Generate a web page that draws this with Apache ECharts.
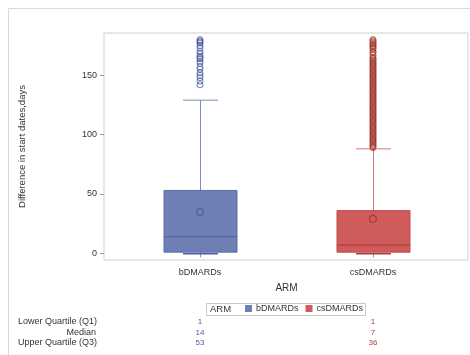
<!DOCTYPE html>
<html>
<head>
<meta charset="utf-8">
<script src="https://cdn.jsdelivr.net/npm/echarts@6/dist/echarts.min.js"></script>
<style>
html,body{margin:0;padding:0;background:#fff;}
#chart{width:470px;height:355px;}
</style>
</head>
<body>
<div id="chart"></div>
<script>
// ---- data ----
const categories = ['bDMARDs', 'csDMARDs'];
const whiskerLow = [0, 0];
const q1 = [1, 1];
const median = [14, 7];
const q3 = [53, 36];
const whiskerHigh = [129, 88];
const means = [35, 29];
const outliersB = [142, 145, 148, 150, 152, 155, 157, 160, 162, 164, 165, 166, 168, 170, 173, 175, 177, 178, 179, 180];
const outliersC = [89, 90, 91, 92, 93, 94, 95, 96, 97, 98, 99, 100, 101, 102, 103, 104, 105, 106, 107, 108, 109, 110,
  111, 112, 113, 114, 115, 116, 117, 118, 119, 120, 121, 122, 123, 124, 125, 126, 127, 128, 129, 130, 131, 132, 133,
  134, 135, 136, 137, 138, 139, 140, 141, 142, 143, 144, 145, 146, 147, 148, 149, 150, 151, 152, 153, 154, 155, 156,
  157, 158, 159, 160, 161, 162, 163, 164, 165, 167, 169, 170, 172, 173, 174, 175, 176, 177, 178, 179, 180];
const yTicks = [0, 50, 100, 150];
const rowTitles = ['Lower Quartile (Q1)', 'Median', 'Upper Quartile (Q3)'];

// ---- styles ----
const fills = ['#6f7eb3', '#d05b5b'];
const borders = ['#5d6daa', '#c04a4a'];
const medians = ['#4f5f9e', '#ad3c3c'];
const whiskers = ['#7f8cc0', '#d77474'];
const contrast = ['#4a5b9f', '#a3362e'];
const tableColors = ['#4b5ca3', '#a8403a'];
const Y_MIN = -5.6, Y_MAX = 185.6;

function renderBox(params, api) {
  const i = api.value(0);
  const band = api.size([1, 0])[0];
  const halfBox = band * 0.211;
  const halfCap = band * 0.101;
  const pLow = api.coord([i, api.value(1)]);
  const pQ1 = api.coord([i, api.value(2)]);
  const pMed = api.coord([i, api.value(3)]);
  const pQ3 = api.coord([i, api.value(4)]);
  const pHigh = api.coord([i, api.value(5)]);
  const cx = Math.round(pLow[0]) + 0.5;
  const k = i;
  return {
    type: 'group',
    children: [
      { type: 'line', shape: { x1: cx, y1: pQ3[1], x2: cx, y2: pHigh[1] }, style: { stroke: whiskers[k], lineWidth: 1 } },
      { type: 'line', shape: { x1: cx, y1: pQ1[1], x2: cx, y2: pLow[1] }, style: { stroke: whiskers[k], lineWidth: 1 } },
      { type: 'line', shape: { x1: cx - halfCap, y1: pHigh[1], x2: cx + halfCap, y2: pHigh[1] }, style: { stroke: whiskers[k], lineWidth: 1 } },
      { type: 'line', shape: { x1: cx - halfCap, y1: pLow[1] + 0.5, x2: cx + halfCap, y2: pLow[1] + 0.5 }, style: { stroke: medians[k], lineWidth: 1.5 } },
      { type: 'rect', shape: { x: cx - halfBox, y: pQ3[1], width: halfBox * 2, height: pQ1[1] - pQ3[1] },
        style: { fill: fills[k], stroke: borders[k], lineWidth: 1 } },
      { type: 'line', shape: { x1: cx - halfBox, y1: pMed[1], x2: cx + halfBox, y2: pMed[1] }, style: { stroke: medians[k], lineWidth: 1.2 } }
    ]
  };
}

const series = [];
categories.forEach((c, i) => {
  series.push({
    name: c,
    type: 'custom',
    xAxisIndex: 1, yAxisIndex: 1,
    itemStyle: { color: fills[i] },
    renderItem: renderBox,
    encode: { x: 0, y: [1, 2, 3, 4, 5] },
    data: [[i, whiskerLow[i], q1[i], median[i], q3[i], whiskerHigh[i]]],
    z: 2
  });
});
[outliersB, outliersC].forEach((arr, i) => {
  series.push({
    name: categories[i] + ' outliers',
    type: 'scatter',
    xAxisIndex: 1, yAxisIndex: 1,
    symbol: 'circle', symbolSize: 6,
    itemStyle: { color: 'rgba(0,0,0,0)', borderColor: contrast[i], borderWidth: 1 },
    data: arr.map(v => [i, v]),
    z: 3
  });
});
series.push({
  name: 'Mean',
  type: 'scatter',
  xAxisIndex: 1, yAxisIndex: 1,
  symbol: 'circle', symbolSize: 7,
  data: means.map((m, i) => ({
    value: [i, m],
    itemStyle: { color: 'rgba(0,0,0,0)', borderColor: contrast[i], borderWidth: 1.3, opacity: 0.85 }
  })),
  z: 4
});

const FONT = "'Liberation Sans', Arial, sans-serif";
const tableAxes = [q1, median, q3].map((arr, r) => ({
  type: 'category',
  gridIndex: 1,
  position: 'bottom',
  offset: [57.5, 68.5, 78.5][r],
  data: categories,
  axisLine: { show: false }, axisTick: { show: false },
  axisLabel: {
    margin: 0,
    formatter: (v, idx) => '{c' + idx + '|' + arr[idx] + '}',
    rich: {
      c0: { color: tableColors[0], fontSize: 8, fontFamily: FONT },
      c1: { color: tableColors[1], fontSize: 8, fontFamily: FONT }
    }
  }
}));

const option = {
  animation: false,
  backgroundColor: '#fff',
  textStyle: { fontFamily: FONT },
  grid: [
    { left: 104, right: 2, top: 33, bottom: 95, show: true, borderColor: '#d0d0d0', borderWidth: 1, backgroundColor: 'rgba(0,0,0,0)' },
    { left: 113.5, right: 10.5, top: 33, bottom: 95 }
  ],
  xAxis: [
    { type: 'value', gridIndex: 0, show: false, min: 0, max: 1 },
    {
      type: 'category', gridIndex: 1, data: categories,
      axisLine: { show: false },
      axisTick: { show: true, alignWithLabel: true, length: 4, lineStyle: { color: '#999' } },
      axisLabel: { margin: 8, fontSize: 9, color: '#333', fontFamily: FONT },
      name: 'ARM', nameLocation: 'middle', nameGap: 23,
      nameTextStyle: { fontSize: 10, color: '#333', fontFamily: FONT }
    },
    ...tableAxes
  ],
  yAxis: [
    {
      type: 'value', gridIndex: 0, min: Y_MIN, max: Y_MAX,
      axisLine: { show: false },
      splitLine: { show: false },
      axisTick: { show: true, length: 4, lineStyle: { color: '#999' }, customValues: yTicks },
      axisLabel: { fontSize: 9, color: '#333', margin: 7, fontFamily: FONT, customValues: yTicks },
      name: 'Difference in start dates,days', nameLocation: 'middle', nameGap: 77,
      nameTextStyle: { fontSize: 9.5, color: '#333', fontFamily: FONT }
    },
    { type: 'value', gridIndex: 1, min: Y_MIN, max: Y_MAX, show: false }
  ],
  legend: {
    data: categories,
    left: 245, top: 304,
    padding: 0,
    icon: 'rect', itemWidth: 7, itemHeight: 7, itemGap: 7,
    textStyle: { fontSize: 9, color: '#333', fontFamily: FONT, padding: [0, 0, 0, -1] },
    selectedMode: false
  },
  graphic: [
    { type: 'rect', shape: { x: 8.5, y: 8.5, width: 480, height: 360 }, style: { fill: 'none', stroke: '#dadada', lineWidth: 1 }, silent: true, z: -10 },
    { type: 'rect', shape: { x: 206.5, y: 303.5, width: 159, height: 12 }, style: { fill: 'none', stroke: '#c8c8c8', lineWidth: 1 }, silent: true },
    { type: 'text', x: 210, y: 309.5, style: { text: 'ARM', font: "9.5px 'Liberation Sans', Arial, sans-serif", fill: '#333', verticalAlign: 'middle' }, silent: true },
    { type: 'text', x: 18, y: 322, style: { text: rowTitles[0], font: "9px 'Liberation Sans', Arial, sans-serif", fill: '#333', verticalAlign: 'middle' }, silent: true },
    { type: 'text', x: 96, y: 333, style: { text: rowTitles[1], font: "9px 'Liberation Sans', Arial, sans-serif", fill: '#333', align: 'right', verticalAlign: 'middle' }, silent: true },
    { type: 'text', x: 18, y: 343, style: { text: rowTitles[2], font: "9px 'Liberation Sans', Arial, sans-serif", fill: '#333', verticalAlign: 'middle' }, silent: true }
  ],
  series: series
};

const chart = echarts.init(document.getElementById('chart'), null, { renderer: 'canvas' });
chart.setOption(option);
</script>
</body>
</html>
